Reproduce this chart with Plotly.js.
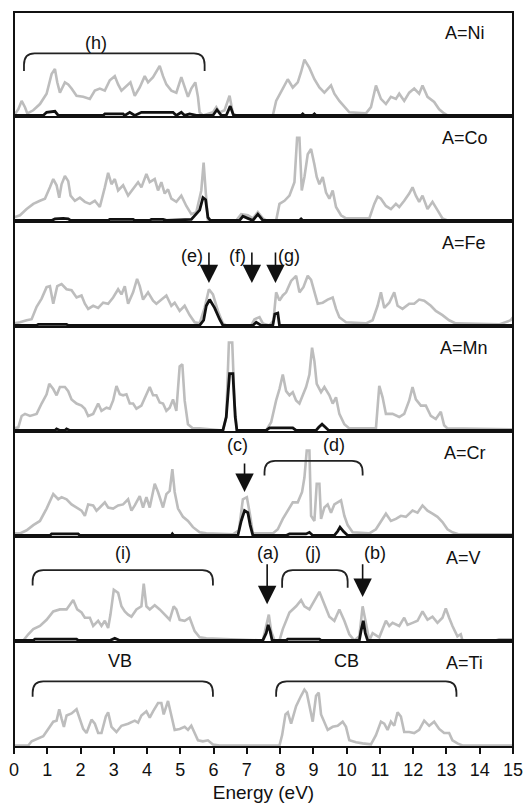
<!DOCTYPE html>
<html>
<head>
<meta charset="utf-8">
<script src="https://cdn.plot.ly/plotly-3.0.1.min.js"></script>
<style>
  html, body { margin: 0; padding: 0; background: #fff; }
  #chart { width: 523px; height: 803px; }
</style>
</head>
<body>
<div id="chart"></div>
<script>
// Panel names, top to bottom
const panelNames = ['A=Ni', 'A=Co', 'A=Fe', 'A=Mn', 'A=Cr', 'A=V', 'A=Ti'];

// Energy tick labels (eV)
const energyTicks = [0, 1, 2, 3, 4, 5, 6, 7, 8, 9, 10, 11, 12, 13, 14, 15];

// Total DOS (grey) and A-site partial DOS (black): [energy eV, relative DOS]
const niTotal = [[0,0],[0.13,0.06],[0.23,0.14],[0.33,0.08],[0.40,0.02],[0.58,0.05],[0.78,0.11],[0.98,0.21],[1.13,0.40],[1.23,0.45],[1.30,0.32],[1.38,0.22],[1.53,0.32],[1.63,0.30],[1.73,0.26],[1.88,0.19],[2.08,0.18],[2.28,0.16],[2.43,0.24],[2.58,0.26],[2.73,0.24],[2.88,0.34],[3.03,0.38],[3.13,0.30],[3.23,0.24],[3.38,0.29],[3.50,0.32],[3.63,0.19],[3.78,0.27],[3.93,0.38],[4.03,0.32],[4.18,0.37],[4.28,0.42],[4.38,0.48],[4.48,0.38],[4.58,0.30],[4.73,0.24],[4.88,0.22],[5.03,0.37],[5.13,0.27],[5.23,0.18],[5.33,0.26],[5.45,0.32],[5.53,0.18],[5.58,0.03],[5.68,0],[5.98,0.03],[6.08,0.08],[6.18,0.03],[6.33,0.05],[6.48,0.19],[6.58,0.02],[6.68,0],[7.78,0],[7.88,0.14],[8.08,0.26],[8.23,0.35],[8.38,0.27],[8.53,0.32],[8.63,0.42],[8.73,0.54],[8.88,0.46],[9.03,0.35],[9.18,0.27],[9.33,0.22],[9.53,0.29],[9.63,0.21],[9.78,0.14],[9.93,0.08],[10.08,0.03],[10.58,0.02],[10.73,0.08],[10.88,0.29],[11.03,0.16],[11.18,0.11],[11.33,0.18],[11.48,0.16],[11.58,0.21],[11.73,0.14],[11.88,0.22],[12.03,0.26],[12.18,0.21],[12.28,0.29],[12.43,0.18],[12.63,0.13],[12.78,0.06],[12.93,0.02],[13.03,0],[15,0]];
const niPartial = [[0,0],[0.88,0],[0.98,0.03],[1.23,0.04],[1.33,0],[2.68,0],[2.73,0.015],[3.28,0.015],[3.33,0],[3.48,0.03],[3.63,0],[3.83,0.03],[4.78,0.03],[4.88,0],[5.03,0.03],[5.13,0],[5.28,0.015],[5.48,0],[5.98,0],[6.10,0.055],[6.23,0],[6.38,0],[6.50,0.09],[6.60,0],[8.63,0],[8.68,0.015],[8.73,0],[8.98,0],[9.03,0.015],[9.08,0],[15,0]];

const coTotal = [[0,0.03],[0.18,0.05],[0.38,0.11],[0.58,0.16],[0.78,0.19],[0.93,0.21],[1.08,0.32],[1.18,0.40],[1.28,0.34],[1.36,0.22],[1.43,0.35],[1.53,0.43],[1.63,0.38],[1.70,0.24],[1.83,0.19],[1.98,0.22],[2.13,0.18],[2.28,0.16],[2.43,0.19],[2.58,0.13],[2.73,0.32],[2.83,0.46],[2.93,0.35],[3.03,0.40],[3.13,0.29],[3.28,0.34],[3.43,0.24],[3.58,0.30],[3.73,0.37],[3.83,0.32],[3.98,0.45],[4.08,0.37],[4.23,0.40],[4.33,0.29],[4.43,0.37],[4.53,0.26],[4.63,0.30],[4.73,0.21],[4.88,0.18],[5.03,0.24],[5.18,0.14],[5.33,0.06],[5.48,0.08],[5.63,0.29],[5.70,0.56],[5.76,0.29],[5.83,0],[6.68,0],[6.83,0.06],[7.03,0.05],[7.18,0.02],[7.33,0.08],[7.48,0.02],[7.58,0],[7.88,0],[7.98,0.16],[8.13,0.19],[8.28,0.24],[8.43,0.37],[8.51,0.80],[8.58,0.80],[8.65,0.29],[8.73,0.42],[8.83,0.64],[8.93,0.69],[9.03,0.54],[9.10,0.42],[9.18,0.35],[9.28,0.42],[9.38,0.27],[9.48,0.21],[9.58,0.29],[9.68,0.13],[9.83,0.05],[9.98,0.02],[10.68,0.02],[10.83,0.16],[10.93,0.23],[11.03,0.21],[11.18,0.14],[11.33,0.11],[11.48,0.16],[11.58,0.13],[11.73,0.19],[11.88,0.26],[11.98,0.32],[12.08,0.24],[12.18,0.18],[12.28,0.24],[12.43,0.11],[12.58,0.18],[12.73,0.10],[12.88,0.02],[13.03,0],[15,0]];
const coPartial = [[0,0],[1.13,0],[1.23,0.015],[1.48,0.02],[1.63,0.015],[1.70,0],[2.83,0],[2.88,0.01],[3.58,0.01],[3.63,0],[4.08,0],[4.13,0.01],[4.48,0.01],[4.58,0],[5.33,0.01],[5.43,0.05],[5.58,0.10],[5.68,0.22],[5.76,0.20],[5.83,0.03],[5.90,0],[6.78,0],[6.88,0.04],[7.03,0.02],[7.18,0],[7.33,0.06],[7.48,0],[8.58,0],[8.63,0.015],[8.68,0],[15,0]];

const feTotal = [[0,0.02],[0.18,0.03],[0.38,0.05],[0.53,0.06],[0.68,0.18],[0.83,0.26],[0.98,0.37],[1.08,0.38],[1.18,0.21],[1.30,0.38],[1.43,0.40],[1.58,0.35],[1.73,0.34],[1.88,0.27],[2.03,0.29],[2.13,0.21],[2.23,0.16],[2.38,0.19],[2.53,0.17],[2.68,0.22],[2.83,0.21],[2.98,0.27],[3.13,0.35],[3.23,0.30],[3.33,0.38],[3.43,0.21],[3.58,0.32],[3.70,0.45],[3.78,0.38],[3.88,0.25],[4.03,0.32],[4.18,0.24],[4.28,0.21],[4.43,0.25],[4.58,0.29],[4.73,0.19],[4.83,0.22],[4.98,0.14],[5.13,0.19],[5.28,0.10],[5.43,0.03],[5.58,0.02],[5.73,0.17],[5.86,0.35],[5.98,0.30],[6.13,0.14],[6.28,0.02],[6.38,0],[7.13,0],[7.23,0.06],[7.38,0.08],[7.48,0.02],[7.68,0],[7.80,0.05],[7.88,0.32],[7.98,0.24],[8.08,0.29],[8.18,0.32],[8.33,0.43],[8.48,0.48],[8.58,0.32],[8.70,0.37],[8.83,0.48],[8.93,0.44],[9.03,0.32],[9.13,0.21],[9.28,0.22],[9.43,0.25],[9.58,0.27],[9.68,0.16],[9.78,0.08],[9.98,0.03],[10.58,0.02],[10.78,0.05],[10.93,0.19],[11.03,0.32],[11.13,0.17],[11.28,0.22],[11.43,0.32],[11.53,0.19],[11.68,0.16],[11.88,0.21],[12.03,0.21],[12.18,0.25],[12.33,0.24],[12.53,0.19],[12.68,0.14],[12.88,0.10],[13.08,0.05],[13.28,0.02],[14.58,0.01],[14.93,0.05],[15,0.08]];
const fePartial = [[0,0],[0.68,0],[0.73,0.01],[1.58,0.01],[1.63,0],[5.58,0],[5.70,0.05],[5.78,0.19],[5.88,0.25],[6.03,0.17],[6.18,0.06],[6.28,0],[7.18,0],[7.28,0.03],[7.43,0],[7.78,0],[7.84,0.11],[7.93,0.12],[7.98,0],[15,0]];

const mnTotal = [[0,0.02],[0.13,0.03],[0.23,0.14],[0.33,0.16],[0.48,0.14],[0.68,0.16],[0.83,0.26],[0.98,0.35],[1.06,0.45],[1.18,0.40],[1.28,0.34],[1.38,0.42],[1.53,0.42],[1.63,0.38],[1.73,0.30],[1.88,0.26],[2.03,0.24],[2.13,0.21],[2.23,0.14],[2.38,0.16],[2.53,0.26],[2.63,0.19],[2.78,0.22],[2.88,0.21],[2.98,0.29],[3.08,0.43],[3.18,0.35],[3.28,0.34],[3.38,0.35],[3.48,0.26],[3.58,0.26],[3.68,0.21],[3.83,0.24],[3.98,0.34],[4.08,0.42],[4.18,0.34],[4.28,0.34],[4.38,0.27],[4.48,0.26],[4.58,0.19],[4.68,0.22],[4.78,0.30],[4.88,0.19],[4.98,0.62],[5.06,0.64],[5.13,0.29],[5.23,0.06],[5.38,0.02],[5.58,0.02],[6.28,0],[6.38,0.13],[6.46,0.85],[6.56,0.85],[6.63,0.26],[6.70,0],[7.58,0],[7.73,0.08],[7.88,0.29],[7.98,0.40],[8.08,0.54],[8.18,0.38],[8.28,0.34],[8.38,0.37],[8.48,0.29],[8.58,0.26],[8.68,0.34],[8.78,0.42],[8.88,0.54],[8.96,0.80],[9.03,0.67],[9.10,0.45],[9.23,0.37],[9.33,0.42],[9.48,0.34],[9.58,0.26],[9.68,0.32],[9.78,0.16],[9.93,0.06],[10.08,0.02],[10.88,0.02],[10.98,0.43],[11.08,0.32],[11.18,0.16],[11.38,0.16],[11.58,0.13],[11.73,0.16],[11.88,0.29],[11.98,0.42],[12.08,0.30],[12.23,0.24],[12.38,0.24],[12.53,0.14],[12.68,0.11],[12.83,0.18],[12.93,0.05],[13.03,0.02],[15,0.01]];
const mnPartial = [[0,0],[1.23,0],[1.28,0.015],[1.38,0],[1.53,0],[1.58,0.015],[1.68,0],[6.28,0],[6.38,0.13],[6.48,0.55],[6.58,0.55],[6.65,0.13],[6.70,0],[7.58,0],[7.68,0.025],[8.38,0.025],[8.48,0],[9.08,0],[9.16,0.03],[9.26,0.06],[9.36,0.03],[9.46,0],[15,0]];

const crTotal = [[0,0.02],[0.18,0.02],[0.38,0.05],[0.58,0.10],[0.78,0.14],[0.98,0.26],[1.18,0.40],[1.33,0.35],[1.43,0.37],[1.58,0.35],[1.73,0.30],[1.88,0.27],[2.03,0.24],[2.13,0.19],[2.23,0.30],[2.38,0.29],[2.48,0.24],[2.58,0.27],[2.73,0.32],[2.83,0.27],[2.98,0.26],[3.13,0.29],[3.28,0.30],[3.43,0.35],[3.53,0.24],[3.63,0.29],[3.78,0.38],[3.88,0.27],[3.98,0.37],[4.08,0.27],[4.23,0.50],[4.33,0.42],[4.48,0.27],[4.58,0.40],[4.68,0.43],[4.76,0.64],[4.83,0.42],[4.93,0.26],[5.08,0.18],[5.23,0.14],[5.38,0.08],[5.58,0.03],[5.78,0.02],[6.58,0.01],[6.76,0.05],[6.88,0.35],[7.00,0.37],[7.10,0.19],[7.18,0.02],[7.78,0.02],[7.93,0.06],[8.08,0.16],[8.23,0.24],[8.38,0.32],[8.53,0.32],[8.66,0.42],[8.73,0.56],[8.80,0.82],[8.88,0.82],[8.93,0.19],[9.03,0.14],[9.10,0.50],[9.18,0.50],[9.23,0.16],[9.33,0.27],[9.43,0.30],[9.53,0.22],[9.63,0.30],[9.73,0.32],[9.83,0.34],[9.93,0.19],[10.03,0.10],[10.18,0.03],[10.68,0.02],[10.88,0.06],[11.08,0.16],[11.18,0.21],[11.33,0.14],[11.48,0.16],[11.63,0.19],[11.78,0.18],[11.98,0.24],[12.13,0.22],[12.28,0.29],[12.43,0.24],[12.58,0.21],[12.73,0.18],[12.88,0.13],[13.03,0.06],[13.18,0.03],[13.38,0.01],[15,0.01]];
const crPartial = [[0,0],[1.08,0],[1.13,0.015],[1.93,0.015],[1.98,0],[4.73,0],[4.76,0.015],[4.80,0],[6.73,0],[6.83,0.14],[6.93,0.24],[7.03,0.22],[7.10,0.10],[7.18,0],[8.18,0],[8.28,0.015],[8.78,0.015],[8.88,0.03],[8.98,0],[9.63,0],[9.73,0.04],[9.80,0.08],[9.90,0.04],[10.03,0],[15,0]];

const vTotal = [[0,0],[0.28,0],[0.43,0.06],[0.58,0.11],[0.78,0.14],[0.98,0.20],[1.18,0.28],[1.38,0.30],[1.58,0.30],[1.70,0.36],[1.78,0.39],[1.90,0.30],[2.03,0.27],[2.13,0.22],[2.28,0.22],[2.38,0.14],[2.53,0.19],[2.63,0.14],[2.73,0.19],[2.83,0.12],[2.90,0.25],[3.00,0.49],[3.13,0.46],[3.23,0.33],[3.33,0.28],[3.43,0.25],[3.53,0.23],[3.68,0.30],[3.83,0.33],[3.90,0.55],[3.98,0.33],[4.08,0.30],[4.23,0.34],[4.38,0.30],[4.53,0.25],[4.68,0.20],[4.80,0.33],[4.88,0.30],[4.98,0.20],[5.13,0.19],[5.28,0.22],[5.43,0.09],[5.58,0.03],[5.78,0.02],[7.48,0],[7.58,0.14],[7.66,0.25],[7.73,0.09],[7.83,0],[7.98,0],[8.08,0.11],[8.28,0.27],[8.48,0.33],[8.63,0.39],[8.73,0.33],[8.88,0.30],[9.03,0.39],[9.18,0.47],[9.33,0.35],[9.48,0.23],[9.63,0.19],[9.78,0.30],[9.93,0.19],[10.08,0.06],[10.23,0],[10.38,0.04],[10.48,0.33],[10.56,0.20],[10.68,0],[10.78,0.07],[10.98,0.03],[11.18,0.19],[11.28,0.14],[11.38,0.17],[11.58,0.14],[11.73,0.22],[11.83,0.15],[11.98,0.17],[12.13,0.19],[12.28,0.28],[12.43,0.20],[12.58,0.23],[12.73,0.17],[12.88,0.22],[12.98,0.31],[13.08,0.22],[13.18,0.14],[13.33,0.04],[13.43,0.06],[13.48,0],[14.48,0],[14.58,0.01],[15,0.01]];
const vPartial = [[0,0],[0.58,0],[0.63,0.012],[1.88,0.012],[1.93,0],[2.88,0],[3.03,0.02],[3.18,0],[7.48,0],[7.58,0.07],[7.64,0.15],[7.70,0.09],[7.76,0],[8.18,0],[8.23,0.012],[9.18,0.012],[9.23,0],[10.38,0],[10.43,0.09],[10.50,0.19],[10.56,0.07],[10.63,0],[15,0]];

const tiTotal = [[0,0],[0.43,0],[0.53,0.04],[0.68,0.06],[0.88,0.09],[1.03,0.16],[1.18,0.23],[1.28,0.24],[1.36,0.35],[1.43,0.26],[1.50,0.18],[1.58,0.29],[1.73,0.31],[1.88,0.35],[1.98,0.26],[2.08,0.16],[2.18,0.12],[2.33,0.25],[2.43,0.21],[2.53,0.12],[2.63,0.12],[2.76,0.28],[2.83,0.32],[2.93,0.18],[3.08,0.13],[3.23,0.19],[3.43,0.21],[3.63,0.24],[3.73,0.22],[3.83,0.29],[3.98,0.33],[4.08,0.27],[4.18,0.33],[4.33,0.41],[4.43,0.41],[4.50,0.30],[4.63,0.43],[4.73,0.29],[4.83,0.15],[4.98,0.16],[5.13,0.18],[5.23,0.15],[5.33,0.19],[5.43,0.12],[5.53,0.05],[5.68,0.04],[5.83,0.05],[5.98,0.01],[6.18,0],[7.98,0],[8.06,0.10],[8.16,0.30],[8.23,0.32],[8.33,0.21],[8.48,0.38],[8.63,0.48],[8.73,0.54],[8.80,0.51],[8.90,0.35],[8.98,0.23],[9.08,0.48],[9.16,0.51],[9.23,0.30],[9.33,0.23],[9.43,0.15],[9.58,0.18],[9.73,0.19],[9.88,0.23],[9.98,0.18],[10.08,0.05],[10.28,0.03],[10.48,0.02],[10.73,0.01],[10.88,0.10],[11.03,0.23],[11.13,0.21],[11.23,0.15],[11.33,0.23],[11.43,0.19],[11.53,0.32],[11.63,0.28],[11.73,0.13],[11.88,0.13],[12.03,0.12],[12.18,0.15],[12.33,0.24],[12.48,0.19],[12.63,0.23],[12.78,0.16],[12.93,0.12],[13.08,0.12],[13.18,0.05],[13.33,0.02],[13.48,0],[15,0]];

const totalSeries = [niTotal, coTotal, feTotal, mnTotal, crTotal, vTotal, tiTotal];
const partialSeries = [niPartial, coPartial, fePartial, mnPartial, crPartial, vPartial, null];

// ---- figure construction ----
const nPanels = panelNames.length;
const yId = i => (i === 0 ? 'y' : 'y' + (i + 1));
const yKey = i => (i === 0 ? 'yaxis' : 'yaxis' + (i + 1));
const FONT = 'Liberation Sans, Arial, Helvetica, sans-serif';

const traces = [];
for (let i = 0; i < nPanels; i++) {
  traces.push({
    type: 'scatter', mode: 'lines', xaxis: 'x', yaxis: yId(i),
    x: totalSeries[i].map(p => p[0]), y: totalSeries[i].map(p => p[1]),
    line: { color: '#bdbdbd', width: 2.6 }, hoverinfo: 'skip'
  });
  if (partialSeries[i]) {
    traces.push({
      type: 'scatter', mode: 'lines', xaxis: 'x', yaxis: yId(i),
      x: partialSeries[i].map(p => p[0]), y: partialSeries[i].map(p => p[1]),
      line: { color: '#111', width: 2.8 }, hoverinfo: 'skip'
    });
  }
}

const layout = {
  width: 523, height: 803,
  margin: { l: 14, r: 10, t: 12, b: 56 },
  paper_bgcolor: '#fff', plot_bgcolor: '#fff',
  showlegend: false,
  font: { family: FONT, size: 18, color: '#111' },
  xaxis: {
    anchor: 'y7', domain: [0, 1], range: [0, 15],
    tickmode: 'array', tickvals: energyTicks, ticktext: energyTicks.map(String),
    ticks: 'outside', ticklen: 6, tickwidth: 2, tickcolor: '#111',
    ticklabeloverflow: 'allow',
    showgrid: false, zeroline: false, showline: false,
    tickfont: { family: FONT, size: 18, color: '#111' },
    title: { text: 'Energy (eV)', font: { family: FONT, size: 19, color: '#111' }, standoff: 9 }
  },
  shapes: [],
  annotations: []
};

for (let i = 0; i < nPanels; i++) {
  layout[yKey(i)] = {
    anchor: 'x', domain: [1 - (i + 1) / nPanels, 1 - i / nPanels],
    range: [-0.015, 1], showgrid: false, zeroline: false, showline: false,
    showticklabels: false, ticks: ''
  };
}

// frame and panel separators
layout.shapes.push({ type: 'rect', xref: 'paper', yref: 'paper', x0: 0, x1: 1, y0: 0, y1: 1,
  line: { color: '#111', width: 2 }, layer: 'above' });
for (let k = 1; k < nPanels; k++) {
  layout.shapes.push({ type: 'line', xref: 'paper', yref: 'paper', x0: 0, x1: 1, y0: k / nPanels, y1: k / nPanels,
    line: { color: '#111', width: 2 }, layer: 'above' });
}

// panel names, right aligned near the top of each panel
const nameRight = [487, 490, 488, 490, 488, 483, 485];
panelNames.forEach((name, i) => {
  layout.annotations.push({
    text: name, showarrow: false, xref: 'paper', yref: yId(i) + ' domain',
    x: (nameRight[i] - 14) / 499, y: 0.80, xanchor: 'right', yanchor: 'middle',
    font: { family: FONT, size: 18, color: '#111' }
  });
});

// band labels: [panel, text, energy, height]
const bandLabels = [
  [0, '(h)', 2.46, 0.70],
  [2, '(e)', 5.36, 0.67], [2, '(f)', 6.72, 0.67], [2, '(g)', 8.26, 0.67],
  [4, '(c)', 6.72, 0.875], [4, '(d)', 9.63, 0.875],
  [5, '(i)', 3.28, 0.85], [5, '(a)', 7.63, 0.85], [5, '(j)', 8.98, 0.85], [5, '(b)', 10.86, 0.85],
  [6, 'VB', 3.18, 0.82], [6, 'CB', 9.98, 0.82]
];
bandLabels.forEach(([p, t, e, h]) => {
  layout.annotations.push({
    text: t, showarrow: false, xref: 'x', yref: yId(p), x: e, y: h,
    xanchor: 'center', yanchor: 'middle', font: { family: FONT, size: 18, color: '#111' }
  });
});

// brackets spanning energy ranges: [panel, from, to, top, ends]
const brackets = [
  [0, 0.30, 5.73, 0.60, 0.43],
  [4, 7.53, 10.48, 0.72, 0.58],
  [5, 0.56, 5.98, 0.68, 0.53],
  [5, 8.06, 10.03, 0.68, 0.51],
  [6, 0.56, 5.98, 0.62, 0.47],
  [6, 7.88, 13.30, 0.62, 0.47]
];
brackets.forEach(([p, a, b, top, end]) => {
  const dx = 0.32, dy = 0.11;
  const path = `M ${a},${end} L ${a},${top - dy} Q ${a},${top} ${a + dx},${top} ` +
               `L ${b - dx},${top} Q ${b},${top} ${b},${top - dy} L ${b},${end}`;
  layout.shapes.push({ type: 'path', xref: 'x', yref: yId(p), path: path,
    line: { color: '#222', width: 1.8 }, layer: 'above' });
});

// downward arrows marking peaks: [panel, energy, tail, tip]
const arrows = [
  [2, 5.86, 0.72, 0.41], [2, 7.15, 0.72, 0.41], [2, 7.86, 0.72, 0.41],
  [4, 6.93, 0.71, 0.42],
  [5, 7.61, 0.75, 0.35], [5, 10.48, 0.75, 0.42]
];
arrows.forEach(([p, e, tail, tip]) => {
  layout.annotations.push({
    text: '', showarrow: true, xref: 'x', yref: yId(p), axref: 'x', ayref: yId(p),
    x: e, y: tip, ax: e, ay: tail, arrowhead: 2, arrowsize: 2.3, arrowwidth: 1.6,
    arrowcolor: '#111', standoff: 0
  });
});

Plotly.newPlot('chart', traces, layout, { staticPlot: true, displayModeBar: false });
</script>
</body>
</html>
